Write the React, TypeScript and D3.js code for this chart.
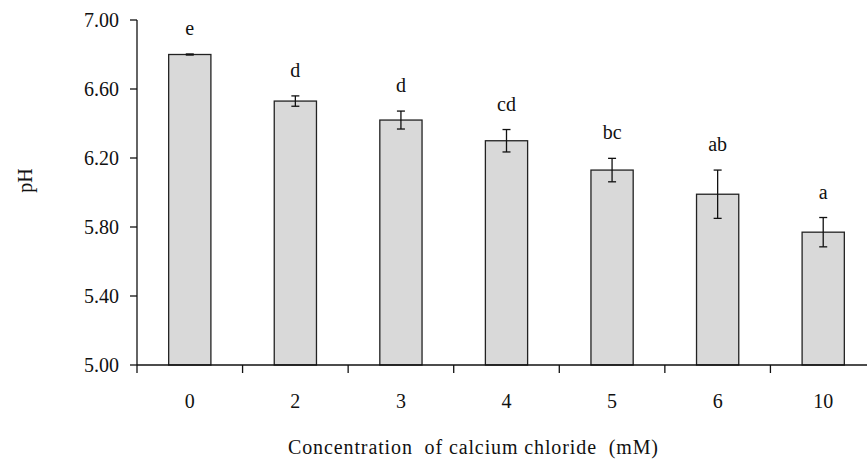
import React from "react";
import * as d3 from "d3";

const categories = ["0", "2", "3", "4", "5", "6", "10"];
const means = [6.8, 6.53, 6.42, 6.3, 6.13, 5.99, 5.77];
const errors = [0.003, 0.03, 0.052, 0.065, 0.068, 0.14, 0.085];
const letters = ["e", "d", "d", "cd", "bc", "ab", "a"];
const yTicks = [5.0, 5.4, 5.8, 6.2, 6.6, 7.0];

const W = 867;
const H = 464;
const left = 137;
const right = 876;
const top = 20;
const bottom = 365;
const FONT = "'Liberation Serif', 'Times New Roman', serif";

export default function App() {
  const x = d3.scaleBand<string>().domain(categories).range([left, right]).paddingInner(0.6).paddingOuter(0.3);
  const xb = d3.scaleBand<string>().domain(categories).range([left, right]);
  const y = d3.scaleLinear().domain([5, 7]).range([bottom, top]);
  const bw = x.bandwidth();
  return (
    <svg width={W} height={H} style={{ position: "absolute", left: 0, top: 0 }} fontFamily={FONT}>
      <rect x={0} y={0} width={W} height={H} fill="#fff" />
      {categories.map((c, i) => {
        const cx = (xb(c) as number) + xb.bandwidth() / 2;
        const yt = y(means[i] + errors[i]);
        const ybt = y(means[i] - errors[i]);
        return (
          <g key={c}>
            <rect x={cx - bw / 2} y={y(means[i])} width={bw} height={bottom - y(means[i])} fill="#d9d9d9" stroke="#222" strokeWidth={1.3} />
            <line x1={cx} x2={cx} y1={yt} y2={ybt} stroke="#111" strokeWidth={1.3} />
            <line x1={cx - 4} x2={cx + 4} y1={yt} y2={yt} stroke="#111" strokeWidth={1.3} />
            <line x1={cx - 4} x2={cx + 4} y1={ybt} y2={ybt} stroke="#111" strokeWidth={1.3} />
            <text x={cx} y={yt - 19} textAnchor="middle" fontSize={20} fill="#111">{letters[i]}</text>
            <text x={cx} y={408} textAnchor="middle" fontSize={20} fill="#111">{c}</text>
          </g>
        );
      })}
      <line x1={left} x2={right} y1={bottom} y2={bottom} stroke="#111" strokeWidth={1.3} />
      <line x1={left} x2={left} y1={top} y2={bottom + 8} stroke="#111" strokeWidth={1.3} />
      {categories.slice(1).map((c) => (
        <line key={c} x1={xb(c) as number} x2={xb(c) as number} y1={bottom} y2={bottom + 8} stroke="#111" strokeWidth={1.3} />
      ))}
      {yTicks.map((t) => (
        <g key={t}>
          <line x1={left - 7} x2={left} y1={y(t)} y2={y(t)} stroke="#111" strokeWidth={1.3} />
          <text x={left - 18} y={y(t) + 7} textAnchor="end" fontSize={20} fill="#111">{t.toFixed(2)}</text>
        </g>
      ))}
      <text transform={`translate(32,${(top + bottom) / 2 - 12}) rotate(-90)`} textAnchor="middle" fontSize={20} fill="#111">pH</text>
      <text x={288} y={454} fontSize={20} fill="#111" textLength={370} lengthAdjust="spacing" style={{ whiteSpace: "pre" }} xmlSpace="preserve">Concentration  of calcium chloride  (mM)</text>
    </svg>
  );
}
